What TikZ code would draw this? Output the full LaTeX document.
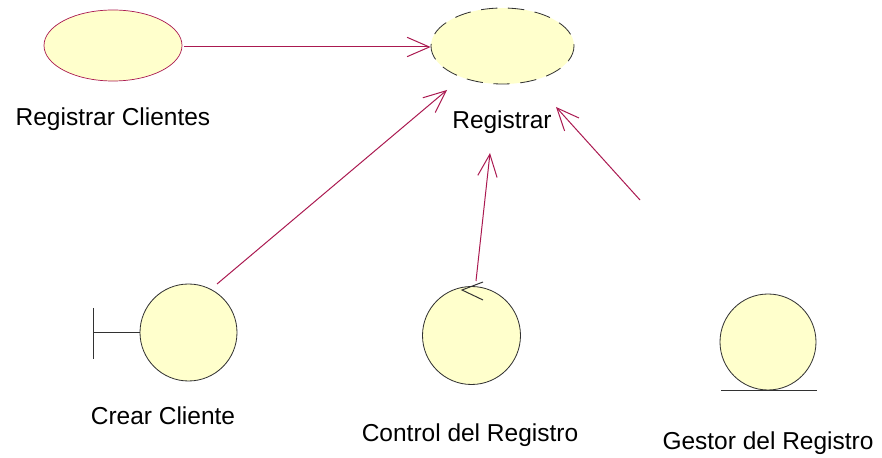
\documentclass[tikz,border=0pt]{standalone}
\usepackage{fontspec}
\setmainfont{Liberation Sans}
\usetikzlibrary{shapes.geometric,arrows.meta}

\tikzset{
	casouso/.style={ellipse, fill=yellowfill, inner sep=0pt, line width=0.6pt},
	clase/.style={circle, draw=lineagray, fill=yellowfill, inner sep=0pt, line width=0.7pt},
	etiqueta/.style={font=\fontsize{20.9pt}{24pt}\selectfont, text=black},
	relacion/.style={draw=relcolor, line width=0.85pt, -{Straight Barb[length=19pt,width=16.5pt,line width=0.85pt]}},
	simbolo/.style={draw=lineagray, line width=0.85pt}
}
\definecolor{yellowfill}{RGB}{255,255,204}
\definecolor{relcolor}{RGB}{170,25,80}
\definecolor{lineagray}{RGB}{50,50,50}

\begin{document}
\begin{tikzpicture}[x=0.03cm, y=-0.03cm]

		\useasboundingbox (0, 0) rectangle (882, 458);

		\node[casouso, draw=relcolor, minimum width=138*0.03cm, minimum height=71*0.03cm] (registrarclientes) at (113, 45.5) {};
		\node[casouso, minimum width=143*0.03cm, minimum height=76*0.03cm] (registrar) at (502.5, 46) {};
		\draw[lineagray, line width=0.7pt, dash pattern=on 14pt off 9pt] (registrar.center) ++(71.5, 0) arc[start angle=0, end angle=-360, x radius=71.5, y radius=-38];

		\node[clase, minimum size=97*0.03cm] (crear) at (188.5, 332.5) {};
		\node[clase, minimum size=98*0.03cm] (control) at (471.5, 335.5) {};
		\node[clase, minimum size=96*0.03cm] (gestor) at (768, 342) {};

		\coordinate (tipcrear) at (447, 90);
		\coordinate (tipcontrol) at (490, 153);
		\coordinate (tipgestor) at (556, 107);
		\coordinate (iniciocontrol) at (476, 281);
		\coordinate (iniciogestor) at (640, 200);
		\coordinate (iniciocrear) at (217, 284);
		\coordinate (barratop) at (93, 308);
		\coordinate (barrabot) at (93, 359);
		\coordinate (suelo1) at (721, 391);
		\coordinate (suelo2) at (817, 391);
		\coordinate (flecha1) at (483, 282);
		\coordinate (flecha2) at (483, 300);
		\coordinate (flechatip) at (462, 290);

		\draw[relacion, shorten <=1.5pt] ([yshift=-0.045cm]registrarclientes.east) -- ([yshift=-0.03cm]registrar.west);
		\draw[relacion] (iniciocrear) -- (tipcrear);
		\draw[relacion] (iniciocontrol) -- (tipcontrol);
		\draw[relacion] (iniciogestor) -- (tipgestor);

		\draw[simbolo] (barratop) -- (barrabot);
		\draw[simbolo] (crear.west -| barratop) -- (crear.west);
		\draw[simbolo] (flecha1) -- (flechatip) -- (flecha2);
		\draw[simbolo] (suelo1) -- (suelo2);

		\node[etiqueta] (lblregistrarclientes) at (113, 119) {Registrar Clientes};
		\node[etiqueta] (lblregistrar) at (502, 122) {Registrar};
		\node[etiqueta] (lblcrear) at (163, 416) {Crear Cliente};
		\node[etiqueta] (lblcontrol) at (470, 435) {Control del Registro};
		\node[etiqueta] (lblgestor) at (768, 443) {Gestor del Registro};

	\end{tikzpicture}
\end{document}
